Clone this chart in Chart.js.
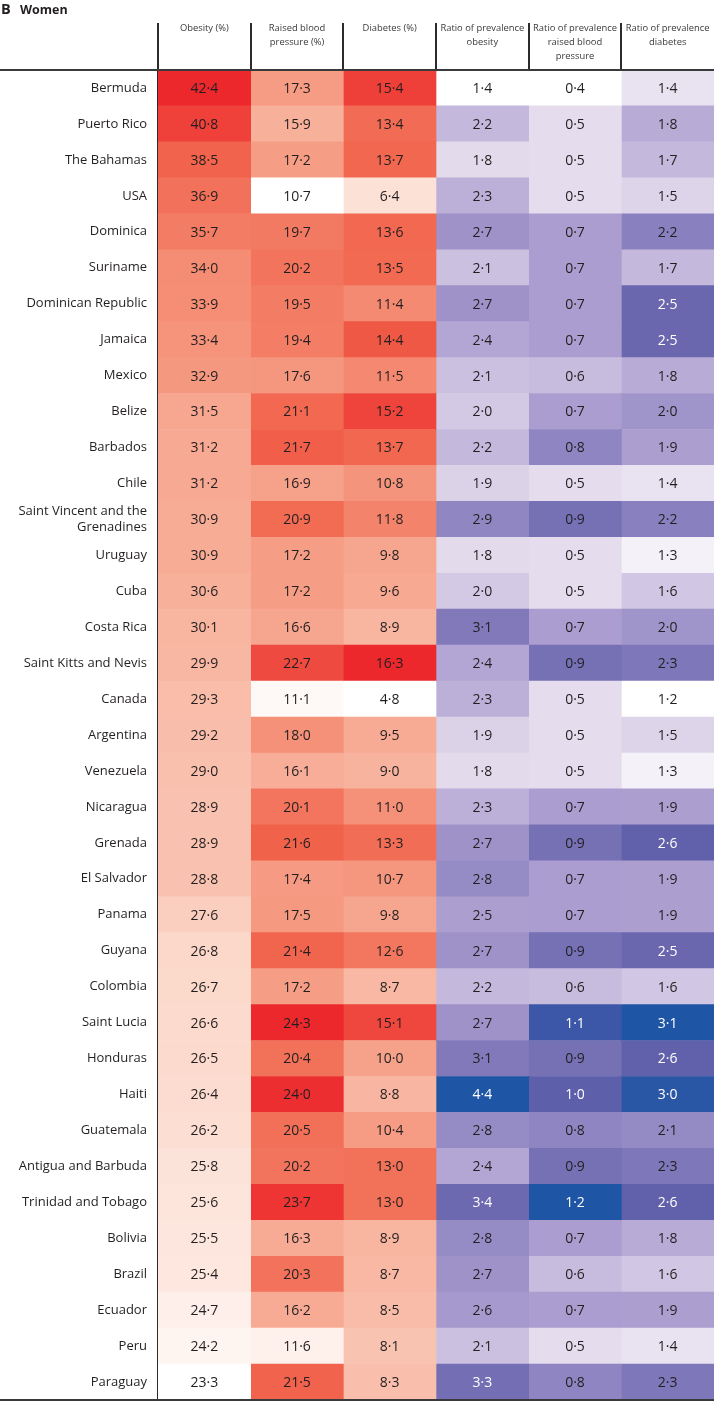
<!DOCTYPE html>
<html>
<head>
<meta charset="utf-8">
<title>Women</title>
<script src="https://cdn.jsdelivr.net/npm/chart.js@4.4.1/dist/chart.umd.min.js"></script>
<style>
  html, body { margin: 0; padding: 0; background: #fff; }
  #wrap { width: 714px; height: 1403px; }
</style>
</head>
<body>
<div id="wrap"><canvas id="heatChart" width="714" height="1403"></canvas></div>
<script>
// Data
const countries = ['Bermuda', 'Puerto Rico', 'The Bahamas', 'USA', 'Dominica', 'Suriname',
  'Dominican Republic', 'Jamaica', 'Mexico', 'Belize', 'Barbados', 'Chile',
  ['Saint Vincent and the', 'Grenadines'], 'Uruguay', 'Cuba', 'Costa Rica',
  'Saint Kitts and Nevis', 'Canada', 'Argentina', 'Venezuela', 'Nicaragua', 'Grenada',
  'El Salvador', 'Panama', 'Guyana', 'Colombia', 'Saint Lucia', 'Honduras', 'Haiti',
  'Guatemala', 'Antigua and Barbuda', 'Trinidad and Tobago', 'Bolivia', 'Brazil',
  'Ecuador', 'Peru', 'Paraguay'];

const obesity = [42.4, 40.8, 38.5, 36.9, 35.7, 34.0, 33.9, 33.4, 32.9, 31.5, 31.2, 31.2, 30.9,
  30.9, 30.6, 30.1, 29.9, 29.3, 29.2, 29.0, 28.9, 28.9, 28.8, 27.6, 26.8, 26.7, 26.6, 26.5,
  26.4, 26.2, 25.8, 25.6, 25.5, 25.4, 24.7, 24.2, 23.3];
const bloodPressure = [17.3, 15.9, 17.2, 10.7, 19.7, 20.2, 19.5, 19.4, 17.6, 21.1, 21.7, 16.9, 20.9,
  17.2, 17.2, 16.6, 22.7, 11.1, 18.0, 16.1, 20.1, 21.6, 17.4, 17.5, 21.4, 17.2, 24.3, 20.4,
  24.0, 20.5, 20.2, 23.7, 16.3, 20.3, 16.2, 11.6, 21.5];
const diabetes = [15.4, 13.4, 13.7, 6.4, 13.6, 13.5, 11.4, 14.4, 11.5, 15.2, 13.7, 10.8, 11.8,
  9.8, 9.6, 8.9, 16.3, 4.8, 9.5, 9.0, 11.0, 13.3, 10.7, 9.8, 12.6, 8.7, 15.1, 10.0,
  8.8, 10.4, 13.0, 13.0, 8.9, 8.7, 8.5, 8.1, 8.3];
const ratioObesity = [1.4, 2.2, 1.8, 2.3, 2.7, 2.1, 2.7, 2.4, 2.1, 2.0, 2.2, 1.9, 2.9,
  1.8, 2.0, 3.1, 2.4, 2.3, 1.9, 1.8, 2.3, 2.7, 2.8, 2.5, 2.7, 2.2, 2.7, 3.1,
  4.4, 2.8, 2.4, 3.4, 2.8, 2.7, 2.6, 2.1, 3.3];
const ratioBloodPressure = [0.4, 0.5, 0.5, 0.5, 0.7, 0.7, 0.7, 0.7, 0.6, 0.7, 0.8, 0.5, 0.9,
  0.5, 0.5, 0.7, 0.9, 0.5, 0.5, 0.5, 0.7, 0.9, 0.7, 0.7, 0.9, 0.6, 1.1, 0.9,
  1.0, 0.8, 0.9, 1.2, 0.7, 0.6, 0.7, 0.5, 0.8];
const ratioDiabetes = [1.4, 1.8, 1.7, 1.5, 2.2, 1.7, 2.5, 2.5, 1.8, 2.0, 1.9, 1.4, 2.2,
  1.3, 1.6, 2.0, 2.3, 1.2, 1.5, 1.3, 1.9, 2.6, 1.9, 1.9, 2.5, 1.6, 3.1, 2.6,
  3.0, 2.1, 2.3, 2.6, 1.8, 1.6, 1.9, 1.4, 2.3];

const headers = [['Obesity (%)'], ['Raised blood', 'pressure (%)'], ['Diabetes (%)'],
  ['Ratio of prevalence', 'obesity'], ['Ratio of prevalence', 'raised blood', 'pressure'],
  ['Ratio of prevalence', 'diabetes']];

const columns = [obesity, bloodPressure, diabetes, ratioObesity, ratioBloodPressure, ratioDiabetes];
const palettes = ['red', 'red', 'red', 'purple', 'purple', 'purple'];

// Farbskalen
const stops = {
  red: [[0, [255, 255, 255]], [0.2, [251, 212, 197]], [0.4, [247, 172, 150]], [0.6, [244, 133, 108]],
        [0.8, [241, 98, 75]], [1, [237, 40, 45]]],
  purple: [[0, [255, 255, 255]], [0.12, [230, 222, 238]], [0.35, [176, 162, 210]], [0.55, [132, 124, 188]],
           [0.7, [103, 100, 173]], [0.8, [85, 90, 168]], [0.9, [52, 86, 166]], [1, [30, 85, 165]]]
};

function share(c, v) {
  const min = Math.min(...columns[c]);
  const max = Math.max(...columns[c]);
  return (v - min) / (max - min);
}

function ramp(name, t) {
  const s = stops[name];
  for (let i = 1; i < s.length; i++) {
    if (t <= s[i][0]) {
      const k = (t - s[i - 1][0]) / (s[i][0] - s[i - 1][0]);
      const rgb = s[i - 1][1].map((a, j) => Math.round(a + (s[i][1][j] - a) * k));
      return `rgb(${rgb.join(',')})`;
    }
  }
  return `rgb(${s[s.length - 1][1].join(',')})`;
}

const fmt = v => v.toFixed(1).replace('.', '\u00b7');
const ink = '#231f20';
const font = '"Open Sans", "Noto Sans", sans-serif';

// Werte in die Zellen schreiben
const cellText = {
  id: 'cellText',
  afterDatasetsDraw(chart) {
    const ctx = chart.ctx;
    ctx.save();
    ctx.font = `14px ${font}`;
    ctx.textAlign = 'center';
    ctx.textBaseline = 'middle';
    columns.forEach((vals, c) => {
      chart.getDatasetMeta(c).data.forEach((bar, i) => {
        const dark = palettes[c] === 'purple' && share(c, vals[i]) >= 0.63;
        ctx.fillStyle = dark ? '#fff' : ink;
        ctx.fillText(fmt(vals[i]), (bar.x + bar.base) / 2, bar.y + 1);
      });
    });
    ctx.restore();
  }
};

// Rahmenlinien und Titel
const frame = {
  id: 'frame',
  afterDraw(chart) {
    const { ctx, chartArea } = chart;
    ctx.save();
    ctx.strokeStyle = '#3a3a3a';
    ctx.lineWidth = 2;
    ctx.beginPath();
    ctx.moveTo(0, chartArea.top);
    ctx.lineTo(chart.width, chartArea.top);
    ctx.moveTo(0, chartArea.bottom);
    ctx.lineTo(chart.width, chartArea.bottom);
    ctx.stroke();

    ctx.fillStyle = ink;
    ctx.textBaseline = 'alphabetic';
    ctx.font = `bold 14.5px ${font}`;
    ctx.fillText('B', 1, 14);
    ctx.font = `bold 12.5px ${font}`;
    ctx.fillText('Women', 20, 14);
    ctx.restore();
  }
};

const ctx = document.getElementById('heatChart').getContext('2d');
const heatChart = new Chart(ctx, {
  type: 'bar',
  data: {
    labels: countries,
    datasets: columns.map((vals, c) => ({
      label: headers[c].join(' '),
      data: vals.map(() => [c, c + 1]),
      backgroundColor: vals.map(v => ramp(palettes[c], share(c, v))),
      borderWidth: 0,
      grouped: false,
      barPercentage: 1,
      categoryPercentage: 1,
      xAxisID: 'x',
      yAxisID: 'y'
    }))
  },
  options: {
    indexAxis: 'y',
    responsive: false,
    devicePixelRatio: 1,
    animation: false,
    layout: { padding: { top: 0, right: 0, bottom: 3, left: 0 } },
    plugins: {
      legend: { display: false },
      tooltip: { enabled: false },
      title: { display: false }
    },
    scales: {
      x: { type: 'linear', min: 0, max: 6, display: false },
      head: {
        type: 'category',
        axis: 'x',
        position: 'top',
        labels: headers,
        offset: true,
        z: 1,
        border: { display: false },
        grid: {
          offset: true,
          lineWidth: 2,
          tickLength: 47,
          color: c => c.type === 'tick' ? '#2b2b2b' : 'rgba(0,0,0,0)'
        },
        ticks: {
          autoSkip: false,
          maxRotation: 0,
          padding: -40,
          crossAlign: 'far',
          color: '#3a3a3a',
          font: { family: font, size: 9.4, lineHeight: 1.49 }
        },
        afterFit: scale => { scale.height = 70; }
      },
      y: {
        type: 'category',
        position: 'left',
        grid: { display: false, drawTicks: false },
        border: { display: false },
        ticks: {
          autoSkip: false,
          padding: 11,
          color: ink,
          font: { family: font, size: 13, lineHeight: 1.25 }
        },
        afterFit: scale => {
          scale.width = 158;
          scale.paddingTop = 0;
          scale.paddingBottom = 0;
        }
      }
    }
  },
  plugins: [cellText, frame]
});
</script>
</body>
</html>
